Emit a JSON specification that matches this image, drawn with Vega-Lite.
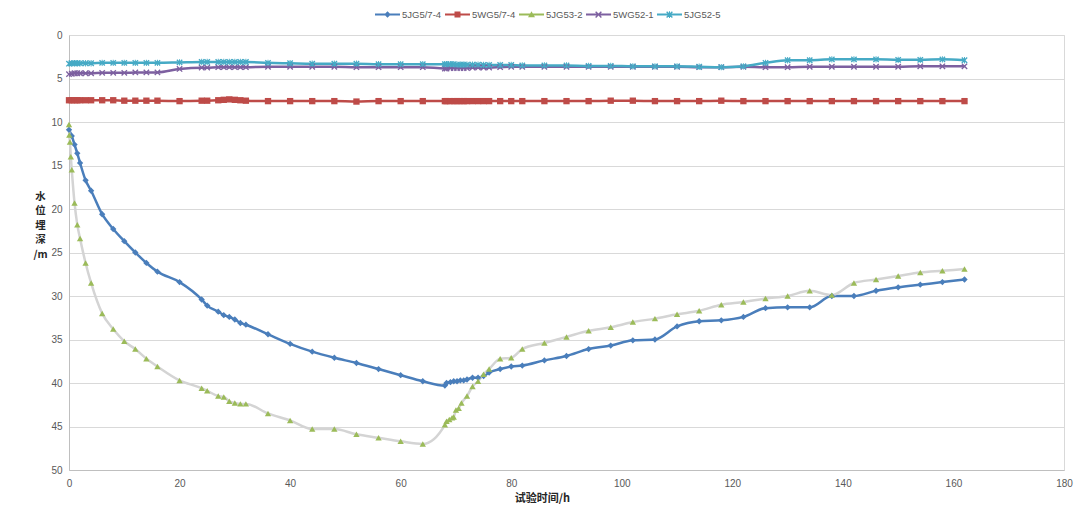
{
  "$schema": "https://vega.github.io/schema/vega-lite/v6.json",
  "autosize": {"type": "none"},
  "width": 995,
  "height": 435,
  "padding": {"left": 69, "top": 35, "right": 16, "bottom": 38},
  "background": "white",
  "config": {
    "view": {"stroke": "#d9d9d9", "strokeWidth": 1},
    "axis": {"labelFont": "Liberation Sans", "labelFontSize": 10, "labelColor": "#595959", "titleFont": "Noto Sans CJK SC", "titleFontSize": 11, "titleFontWeight": "bold", "titleColor": "#262626", "domainColor": "#bfbfbf", "ticks": false, "labelOverlap": false, "labelFlush": false, "labelBound": false}
  },
  "data": {"values": [
    {"s":"5JG5/7-4","t":0,"d":10.9},{"s":"5JG5/7-4","t":0.5,"d":11.6},{"s":"5JG5/7-4","t":1,"d":12.6},{"s":"5JG5/7-4","t":1.5,"d":13.6},{"s":"5JG5/7-4","t":2,"d":14.7},{"s":"5JG5/7-4","t":3,"d":16.7},{"s":"5JG5/7-4","t":4,"d":17.9},{"s":"5JG5/7-4","t":6,"d":20.6},{"s":"5JG5/7-4","t":8,"d":22.3},{"s":"5JG5/7-4","t":10,"d":23.7},{"s":"5JG5/7-4","t":12,"d":25.0},{"s":"5JG5/7-4","t":14,"d":26.2},{"s":"5JG5/7-4","t":16,"d":27.2},{"s":"5JG5/7-4","t":20,"d":28.4},{"s":"5JG5/7-4","t":24,"d":30.4},{"s":"5JG5/7-4","t":25,"d":31.1},{"s":"5JG5/7-4","t":27,"d":31.8},{"s":"5JG5/7-4","t":28,"d":32.2},{"s":"5JG5/7-4","t":29,"d":32.4},{"s":"5JG5/7-4","t":30,"d":32.7},{"s":"5JG5/7-4","t":31,"d":33.1},{"s":"5JG5/7-4","t":32,"d":33.3},{"s":"5JG5/7-4","t":36,"d":34.4},{"s":"5JG5/7-4","t":40,"d":35.5},{"s":"5JG5/7-4","t":44,"d":36.4},{"s":"5JG5/7-4","t":48,"d":37.1},{"s":"5JG5/7-4","t":52,"d":37.7},{"s":"5JG5/7-4","t":56,"d":38.4},{"s":"5JG5/7-4","t":60,"d":39.1},{"s":"5JG5/7-4","t":64,"d":39.8},{"s":"5JG5/7-4","t":68,"d":40.3},{"s":"5JG5/7-4","t":68.3,"d":40.0},{"s":"5JG5/7-4","t":69,"d":39.9},{"s":"5JG5/7-4","t":69.6,"d":39.8},{"s":"5JG5/7-4","t":70.2,"d":39.8},{"s":"5JG5/7-4","t":70.8,"d":39.7},{"s":"5JG5/7-4","t":71.4,"d":39.7},{"s":"5JG5/7-4","t":72,"d":39.6},{"s":"5JG5/7-4","t":73,"d":39.4},{"s":"5JG5/7-4","t":74,"d":39.4},{"s":"5JG5/7-4","t":75,"d":39.2},{"s":"5JG5/7-4","t":76,"d":38.8},{"s":"5JG5/7-4","t":78,"d":38.4},{"s":"5JG5/7-4","t":80,"d":38.1},{"s":"5JG5/7-4","t":82,"d":38.0},{"s":"5JG5/7-4","t":86,"d":37.4},{"s":"5JG5/7-4","t":90,"d":36.9},{"s":"5JG5/7-4","t":94,"d":36.1},{"s":"5JG5/7-4","t":98,"d":35.7},{"s":"5JG5/7-4","t":102,"d":35.1},{"s":"5JG5/7-4","t":106,"d":35.0},{"s":"5JG5/7-4","t":110,"d":33.5},{"s":"5JG5/7-4","t":114,"d":32.9},{"s":"5JG5/7-4","t":118,"d":32.8},{"s":"5JG5/7-4","t":122,"d":32.4},{"s":"5JG5/7-4","t":126,"d":31.4},{"s":"5JG5/7-4","t":130,"d":31.3},{"s":"5JG5/7-4","t":134,"d":31.3},{"s":"5JG5/7-4","t":138,"d":30.0},{"s":"5JG5/7-4","t":142,"d":30.0},{"s":"5JG5/7-4","t":146,"d":29.4},{"s":"5JG5/7-4","t":150,"d":29.0},{"s":"5JG5/7-4","t":154,"d":28.7},{"s":"5JG5/7-4","t":158,"d":28.4},{"s":"5JG5/7-4","t":162,"d":28.1},

    {"s":"5WG5/7-4","t":0,"d":7.5},{"s":"5WG5/7-4","t":0.5,"d":7.5},{"s":"5WG5/7-4","t":1,"d":7.5},{"s":"5WG5/7-4","t":1.5,"d":7.5},{"s":"5WG5/7-4","t":2,"d":7.5},{"s":"5WG5/7-4","t":3,"d":7.5},{"s":"5WG5/7-4","t":4,"d":7.5},{"s":"5WG5/7-4","t":6,"d":7.5},{"s":"5WG5/7-4","t":8,"d":7.5},{"s":"5WG5/7-4","t":10,"d":7.55},{"s":"5WG5/7-4","t":12,"d":7.55},{"s":"5WG5/7-4","t":14,"d":7.55},{"s":"5WG5/7-4","t":16,"d":7.55},{"s":"5WG5/7-4","t":20,"d":7.6},{"s":"5WG5/7-4","t":24,"d":7.55},{"s":"5WG5/7-4","t":25,"d":7.55},{"s":"5WG5/7-4","t":27,"d":7.5},{"s":"5WG5/7-4","t":28,"d":7.45},{"s":"5WG5/7-4","t":29,"d":7.4},{"s":"5WG5/7-4","t":30,"d":7.45},{"s":"5WG5/7-4","t":31,"d":7.5},{"s":"5WG5/7-4","t":32,"d":7.55},{"s":"5WG5/7-4","t":36,"d":7.6},{"s":"5WG5/7-4","t":40,"d":7.6},{"s":"5WG5/7-4","t":44,"d":7.6},{"s":"5WG5/7-4","t":48,"d":7.6},{"s":"5WG5/7-4","t":52,"d":7.65},{"s":"5WG5/7-4","t":56,"d":7.6},{"s":"5WG5/7-4","t":60,"d":7.6},{"s":"5WG5/7-4","t":64,"d":7.6},{"s":"5WG5/7-4","t":68,"d":7.6},{"s":"5WG5/7-4","t":68.3,"d":7.6},{"s":"5WG5/7-4","t":69,"d":7.6},{"s":"5WG5/7-4","t":69.6,"d":7.6},{"s":"5WG5/7-4","t":70.2,"d":7.6},{"s":"5WG5/7-4","t":70.8,"d":7.6},{"s":"5WG5/7-4","t":71.4,"d":7.6},{"s":"5WG5/7-4","t":72,"d":7.6},{"s":"5WG5/7-4","t":73,"d":7.6},{"s":"5WG5/7-4","t":74,"d":7.6},{"s":"5WG5/7-4","t":75,"d":7.6},{"s":"5WG5/7-4","t":76,"d":7.6},{"s":"5WG5/7-4","t":78,"d":7.6},{"s":"5WG5/7-4","t":80,"d":7.6},{"s":"5WG5/7-4","t":82,"d":7.6},{"s":"5WG5/7-4","t":86,"d":7.6},{"s":"5WG5/7-4","t":90,"d":7.6},{"s":"5WG5/7-4","t":94,"d":7.6},{"s":"5WG5/7-4","t":98,"d":7.55},{"s":"5WG5/7-4","t":102,"d":7.55},{"s":"5WG5/7-4","t":106,"d":7.6},{"s":"5WG5/7-4","t":110,"d":7.6},{"s":"5WG5/7-4","t":114,"d":7.6},{"s":"5WG5/7-4","t":118,"d":7.55},{"s":"5WG5/7-4","t":122,"d":7.6},{"s":"5WG5/7-4","t":126,"d":7.6},{"s":"5WG5/7-4","t":130,"d":7.6},{"s":"5WG5/7-4","t":134,"d":7.6},{"s":"5WG5/7-4","t":138,"d":7.6},{"s":"5WG5/7-4","t":142,"d":7.6},{"s":"5WG5/7-4","t":146,"d":7.6},{"s":"5WG5/7-4","t":150,"d":7.6},{"s":"5WG5/7-4","t":154,"d":7.6},{"s":"5WG5/7-4","t":158,"d":7.6},{"s":"5WG5/7-4","t":162,"d":7.6},

    {"s":"5JG53-2","t":0,"d":10.3},{"s":"5JG53-2","t":0.05,"d":11.5},{"s":"5JG53-2","t":0.17,"d":12.3},{"s":"5JG53-2","t":0.33,"d":14.0},{"s":"5JG53-2","t":0.5,"d":15.5},{"s":"5JG53-2","t":1,"d":19.3},{"s":"5JG53-2","t":1.5,"d":21.8},{"s":"5JG53-2","t":2,"d":23.4},{"s":"5JG53-2","t":3,"d":26.2},{"s":"5JG53-2","t":4,"d":28.5},{"s":"5JG53-2","t":6,"d":32.0},{"s":"5JG53-2","t":8,"d":33.8},{"s":"5JG53-2","t":10,"d":35.2},{"s":"5JG53-2","t":12,"d":36.1},{"s":"5JG53-2","t":14,"d":37.2},{"s":"5JG53-2","t":16,"d":38.1},{"s":"5JG53-2","t":20,"d":39.7},{"s":"5JG53-2","t":24,"d":40.6},{"s":"5JG53-2","t":25,"d":40.9},{"s":"5JG53-2","t":27,"d":41.5},{"s":"5JG53-2","t":28,"d":41.6},{"s":"5JG53-2","t":29,"d":42.1},{"s":"5JG53-2","t":30,"d":42.3},{"s":"5JG53-2","t":31,"d":42.4},{"s":"5JG53-2","t":32,"d":42.4},{"s":"5JG53-2","t":36,"d":43.5},{"s":"5JG53-2","t":40,"d":44.3},{"s":"5JG53-2","t":44,"d":45.3},{"s":"5JG53-2","t":48,"d":45.3},{"s":"5JG53-2","t":52,"d":45.9},{"s":"5JG53-2","t":56,"d":46.3},{"s":"5JG53-2","t":60,"d":46.7},{"s":"5JG53-2","t":64,"d":47.0},{"s":"5JG53-2","t":68,"d":44.8},{"s":"5JG53-2","t":68.3,"d":44.4},{"s":"5JG53-2","t":68.8,"d":44.2},{"s":"5JG53-2","t":69.3,"d":44.0},{"s":"5JG53-2","t":69.6,"d":43.9},{"s":"5JG53-2","t":70,"d":43.1},{"s":"5JG53-2","t":70.5,"d":42.9},{"s":"5JG53-2","t":71,"d":42.3},{"s":"5JG53-2","t":72,"d":41.5},{"s":"5JG53-2","t":73,"d":40.4},{"s":"5JG53-2","t":74,"d":39.8},{"s":"5JG53-2","t":75,"d":39.0},{"s":"5JG53-2","t":76,"d":38.4},{"s":"5JG53-2","t":78,"d":37.2},{"s":"5JG53-2","t":80,"d":37.1},{"s":"5JG53-2","t":82,"d":36.1},{"s":"5JG53-2","t":86,"d":35.4},{"s":"5JG53-2","t":90,"d":34.7},{"s":"5JG53-2","t":94,"d":34.0},{"s":"5JG53-2","t":98,"d":33.6},{"s":"5JG53-2","t":102,"d":33.0},{"s":"5JG53-2","t":106,"d":32.6},{"s":"5JG53-2","t":110,"d":32.1},{"s":"5JG53-2","t":114,"d":31.7},{"s":"5JG53-2","t":118,"d":31.0},{"s":"5JG53-2","t":122,"d":30.7},{"s":"5JG53-2","t":126,"d":30.3},{"s":"5JG53-2","t":130,"d":30.0},{"s":"5JG53-2","t":134,"d":29.4},{"s":"5JG53-2","t":138,"d":29.9},{"s":"5JG53-2","t":142,"d":28.5},{"s":"5JG53-2","t":146,"d":28.1},{"s":"5JG53-2","t":150,"d":27.7},{"s":"5JG53-2","t":154,"d":27.3},{"s":"5JG53-2","t":158,"d":27.1},{"s":"5JG53-2","t":162,"d":26.9},

    {"s":"5WG52-1","t":0,"d":4.5},{"s":"5WG52-1","t":0.5,"d":4.45},{"s":"5WG52-1","t":1,"d":4.4},{"s":"5WG52-1","t":1.5,"d":4.4},{"s":"5WG52-1","t":2,"d":4.4},{"s":"5WG52-1","t":3,"d":4.4},{"s":"5WG52-1","t":4,"d":4.4},{"s":"5WG52-1","t":6,"d":4.35},{"s":"5WG52-1","t":8,"d":4.35},{"s":"5WG52-1","t":10,"d":4.35},{"s":"5WG52-1","t":12,"d":4.3},{"s":"5WG52-1","t":14,"d":4.3},{"s":"5WG52-1","t":16,"d":4.3},{"s":"5WG52-1","t":20,"d":3.9},{"s":"5WG52-1","t":24,"d":3.75},{"s":"5WG52-1","t":25,"d":3.75},{"s":"5WG52-1","t":27,"d":3.7},{"s":"5WG52-1","t":28,"d":3.7},{"s":"5WG52-1","t":29,"d":3.7},{"s":"5WG52-1","t":30,"d":3.7},{"s":"5WG52-1","t":31,"d":3.7},{"s":"5WG52-1","t":32,"d":3.7},{"s":"5WG52-1","t":36,"d":3.65},{"s":"5WG52-1","t":40,"d":3.65},{"s":"5WG52-1","t":44,"d":3.65},{"s":"5WG52-1","t":48,"d":3.65},{"s":"5WG52-1","t":52,"d":3.7},{"s":"5WG52-1","t":56,"d":3.7},{"s":"5WG52-1","t":60,"d":3.7},{"s":"5WG52-1","t":64,"d":3.7},{"s":"5WG52-1","t":68,"d":3.85},{"s":"5WG52-1","t":68.3,"d":3.85},{"s":"5WG52-1","t":69,"d":3.8},{"s":"5WG52-1","t":69.6,"d":3.8},{"s":"5WG52-1","t":70.2,"d":3.8},{"s":"5WG52-1","t":70.8,"d":3.8},{"s":"5WG52-1","t":71.4,"d":3.8},{"s":"5WG52-1","t":72,"d":3.8},{"s":"5WG52-1","t":73,"d":3.75},{"s":"5WG52-1","t":74,"d":3.75},{"s":"5WG52-1","t":75,"d":3.75},{"s":"5WG52-1","t":76,"d":3.75},{"s":"5WG52-1","t":78,"d":3.7},{"s":"5WG52-1","t":80,"d":3.65},{"s":"5WG52-1","t":82,"d":3.65},{"s":"5WG52-1","t":86,"d":3.65},{"s":"5WG52-1","t":90,"d":3.65},{"s":"5WG52-1","t":94,"d":3.65},{"s":"5WG52-1","t":98,"d":3.65},{"s":"5WG52-1","t":102,"d":3.65},{"s":"5WG52-1","t":106,"d":3.65},{"s":"5WG52-1","t":110,"d":3.65},{"s":"5WG52-1","t":114,"d":3.7},{"s":"5WG52-1","t":118,"d":3.7},{"s":"5WG52-1","t":122,"d":3.65},{"s":"5WG52-1","t":126,"d":3.7},{"s":"5WG52-1","t":130,"d":3.7},{"s":"5WG52-1","t":134,"d":3.65},{"s":"5WG52-1","t":138,"d":3.65},{"s":"5WG52-1","t":142,"d":3.65},{"s":"5WG52-1","t":146,"d":3.65},{"s":"5WG52-1","t":150,"d":3.65},{"s":"5WG52-1","t":154,"d":3.6},{"s":"5WG52-1","t":158,"d":3.6},{"s":"5WG52-1","t":162,"d":3.6},

    {"s":"5JG52-5","t":0,"d":3.3},{"s":"5JG52-5","t":0.5,"d":3.25},{"s":"5JG52-5","t":1,"d":3.25},{"s":"5JG52-5","t":1.5,"d":3.25},{"s":"5JG52-5","t":2,"d":3.25},{"s":"5JG52-5","t":3,"d":3.25},{"s":"5JG52-5","t":4,"d":3.25},{"s":"5JG52-5","t":6,"d":3.2},{"s":"5JG52-5","t":8,"d":3.2},{"s":"5JG52-5","t":10,"d":3.2},{"s":"5JG52-5","t":12,"d":3.2},{"s":"5JG52-5","t":14,"d":3.2},{"s":"5JG52-5","t":16,"d":3.2},{"s":"5JG52-5","t":20,"d":3.15},{"s":"5JG52-5","t":24,"d":3.1},{"s":"5JG52-5","t":25,"d":3.1},{"s":"5JG52-5","t":27,"d":3.1},{"s":"5JG52-5","t":28,"d":3.1},{"s":"5JG52-5","t":29,"d":3.1},{"s":"5JG52-5","t":30,"d":3.1},{"s":"5JG52-5","t":31,"d":3.1},{"s":"5JG52-5","t":32,"d":3.1},{"s":"5JG52-5","t":36,"d":3.2},{"s":"5JG52-5","t":40,"d":3.25},{"s":"5JG52-5","t":44,"d":3.3},{"s":"5JG52-5","t":48,"d":3.3},{"s":"5JG52-5","t":52,"d":3.3},{"s":"5JG52-5","t":56,"d":3.35},{"s":"5JG52-5","t":60,"d":3.35},{"s":"5JG52-5","t":64,"d":3.35},{"s":"5JG52-5","t":68,"d":3.35},{"s":"5JG52-5","t":68.3,"d":3.35},{"s":"5JG52-5","t":69,"d":3.35},{"s":"5JG52-5","t":69.6,"d":3.35},{"s":"5JG52-5","t":70.2,"d":3.4},{"s":"5JG52-5","t":70.8,"d":3.4},{"s":"5JG52-5","t":71.4,"d":3.4},{"s":"5JG52-5","t":72,"d":3.4},{"s":"5JG52-5","t":73,"d":3.4},{"s":"5JG52-5","t":74,"d":3.4},{"s":"5JG52-5","t":75,"d":3.45},{"s":"5JG52-5","t":76,"d":3.45},{"s":"5JG52-5","t":78,"d":3.45},{"s":"5JG52-5","t":80,"d":3.45},{"s":"5JG52-5","t":82,"d":3.5},{"s":"5JG52-5","t":86,"d":3.5},{"s":"5JG52-5","t":90,"d":3.5},{"s":"5JG52-5","t":94,"d":3.55},{"s":"5JG52-5","t":98,"d":3.55},{"s":"5JG52-5","t":102,"d":3.6},{"s":"5JG52-5","t":106,"d":3.6},{"s":"5JG52-5","t":110,"d":3.6},{"s":"5JG52-5","t":114,"d":3.65},{"s":"5JG52-5","t":118,"d":3.7},{"s":"5JG52-5","t":122,"d":3.6},{"s":"5JG52-5","t":126,"d":3.2},{"s":"5JG52-5","t":130,"d":2.9},{"s":"5JG52-5","t":134,"d":2.9},{"s":"5JG52-5","t":138,"d":2.8},{"s":"5JG52-5","t":142,"d":2.8},{"s":"5JG52-5","t":146,"d":2.8},{"s":"5JG52-5","t":150,"d":2.85},{"s":"5JG52-5","t":154,"d":2.85},{"s":"5JG52-5","t":158,"d":2.8},{"s":"5JG52-5","t":162,"d":2.9}
  ]},
  "encoding": {
    "x": {"field": "t", "type": "quantitative", "scale": {"domain": [0, 180], "nice": false},
      "axis": {"values": [0,20,40,60,80,100,120,140,160,180], "grid": false, "labelPadding": 8, "title": "试验时间/h", "titleX": 473, "titleY": 31, "titleAlign": "center", "titleBaseline": "alphabetic", "titleAnchor": null}},
    "y": {"field": "d", "type": "quantitative", "scale": {"domain": [0, 50], "nice": false, "reverse": true},
      "axis": {"values": [0,5,10,15,20,25,30,35,40,45,50], "grid": true, "gridColor": "#d9d9d9", "labelPadding": 7, "title": ["水","位","埋","深","/m"], "titleAngle": 0, "titleFontSize": 10.5, "titleX": -29, "titleY": 156, "titleAlign": "center", "titleBaseline": "top", "titleLineHeight": 14.5}}
  },
  "layer": [
    {
      "mark": {"type": "line", "interpolate": "monotone", "strokeWidth": 2.5},
      "encoding": {
        "color": {"field": "s", "type": "nominal", "legend": null,
          "scale": {"domain": ["5JG5/7-4","5WG5/7-4","5JG53-2","5WG52-1","5JG52-5"], "range": ["#4a7ebb","#be4b48","#d4d4d4","#7d60a0","#46aac5"]}},
        "order": {"field": "t", "type": "quantitative"}
      }
    },
    {
      "mark": {"type": "point", "filled": true, "size": 40, "opacity": 1, "strokeWidth": 0},
      "encoding": {
        "fill": {"field": "s", "type": "nominal", "legend": null,
          "scale": {"domain": ["5JG5/7-4","5WG5/7-4","5JG53-2","5WG52-1","5JG52-5"], "range": ["#4a7ebb","#be4b48","#9bbb59","#7d60a0","#46aac5"]}},
        "shape": {"field": "s", "type": "nominal", "legend": null,
          "scale": {"domain": ["5JG5/7-4","5WG5/7-4","5JG53-2","5WG52-1","5JG52-5"], "range": ["diamond","square","triangle-up","M-1,-0.7L-0.7,-1L0,-0.3L0.7,-1L1,-0.7L0.3,0L1,0.7L0.7,1L0,0.3L-0.7,1L-1,0.7L-0.3,0Z","M-1,-0.7L-0.7,-1L0,-0.3L0.7,-1L1,-0.7L0.3,0L1,0.7L0.7,1L0,0.3L-0.7,1L-1,0.7L-0.3,0ZM-0.15,-1H0.15V1H-0.15Z"]}}
      }
    },
    {
      "transform": [{"filter": "datum.t < -100"}],
      "mark": {"type": "point", "filled": true, "size": 625, "opacity": 1, "strokeWidth": 0},
      "encoding": {
        "fill": {"field": "s", "type": "nominal",
          "scale": {"domain": ["5JG5/7-4","5WG5/7-4","5JG53-2","5WG52-1","5JG52-5"], "range": ["#4a7ebb","#be4b48","#9bbb59","#7d60a0","#46aac5"]},
          "legend": {"orient": "none", "legendX": 306, "legendY": -33, "direction": "horizontal", "title": null, "padding": 0, "symbolSize": 625, "symbolStrokeWidth": 0, "labelFont": "Liberation Sans", "labelFontSize": 9.5, "labelColor": "#595959", "labelOffset": 2, "columnPadding": 3}},
        "shape": {"field": "s", "type": "nominal",
          "scale": {"domain": ["5JG5/7-4","5WG5/7-4","5JG53-2","5WG52-1","5JG52-5"], "range": [
            "M-1,-0.08H1V0.08H-1ZM0,-0.26L0.26,0L0,0.26L-0.26,0Z",
            "M-1,-0.08H1V0.08H-1ZM-0.24,-0.24H0.24V0.24H-0.24Z",
            "M-1,-0.08H1V0.08H-1ZM0,-0.26L0.28,0.22H-0.28Z",
            "M-1,-0.08H1V0.08H-1ZM-0.27,-0.19L-0.19,-0.27L0,-0.08L0.19,-0.27L0.27,-0.19L0.08,0L0.27,0.19L0.19,0.27L0,0.08L-0.19,0.27L-0.27,0.19L-0.08,0Z",
            "M-1,-0.08H1V0.08H-1ZM-0.27,-0.19L-0.19,-0.27L0,-0.08L0.19,-0.27L0.27,-0.19L0.08,0L0.27,0.19L0.19,0.27L0,0.08L-0.19,0.27L-0.27,0.19L-0.08,0ZM-0.04,-0.27H0.04V0.27H-0.04Z"]},
          "legend": {"orient": "none", "legendX": 306, "legendY": -33, "direction": "horizontal", "title": null, "padding": 0, "symbolSize": 625, "symbolStrokeWidth": 0, "labelFont": "Liberation Sans", "labelFontSize": 9.5, "labelColor": "#595959", "labelOffset": 2, "columnPadding": 3}}
      }
    }
  ],
  "resolve": {"scale": {"fill": "independent", "shape": "independent"}}
}
